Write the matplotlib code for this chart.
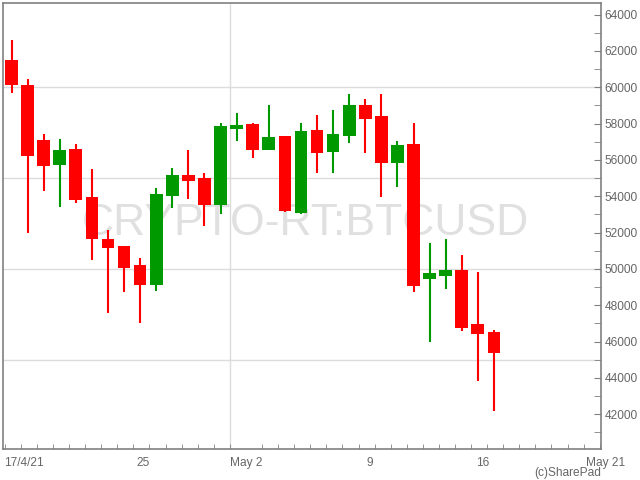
import matplotlib
matplotlib.use("Agg")
import matplotlib.pyplot as plt
import numpy as np

# Daily candles, 17 Apr 2021 .. 17 May 2021
dates = ["2021-04-17", "2021-04-18", "2021-04-19", "2021-04-20", "2021-04-21",
         "2021-04-22", "2021-04-23", "2021-04-24", "2021-04-25", "2021-04-26",
         "2021-04-27", "2021-04-28", "2021-04-29", "2021-04-30", "2021-05-01",
         "2021-05-02", "2021-05-03", "2021-05-04", "2021-05-05", "2021-05-06",
         "2021-05-07", "2021-05-08", "2021-05-09", "2021-05-10", "2021-05-11",
         "2021-05-12", "2021-05-13", "2021-05-14", "2021-05-15", "2021-05-16",
         "2021-05-17"]
opens = [61500, 60130, 57100, 55720, 56600, 53960, 51650, 51260, 50210, 49130,
         54030, 55170, 55000, 53540, 57720, 57980, 56560, 57320, 53090, 57650,
         56460, 57340, 59030, 58420, 55850, 56880, 49460, 49630, 49940, 46970,
         46540]
highs = [62600, 60460, 57430, 57150, 56880, 55500, 52140, 51260, 50600, 54450,
         55560, 56550, 55280, 58020, 58570, 58030, 59030, 57320, 58030, 58470,
         58750, 59630, 59360, 59630, 57040, 58030, 51430, 51650, 50770, 49830,
         46650]
lows = [59700, 51950, 54310, 53430, 53650, 50510, 47590, 48750, 47040, 48800,
        53370, 53870, 52380, 53040, 57060, 56120, 56560, 53150, 53040, 55300,
        55300, 56950, 56400, 53980, 54530, 48750, 45990, 48910, 46600, 43840,
        42190]
closes = [60100, 56230, 55680, 56550, 53810, 51660, 51170, 50070, 49130, 54120,
          55170, 54860, 53540, 57870, 57920, 56560, 57260, 53210, 57590, 56400,
          57430, 59030, 58270, 55850, 56820, 49080, 49780, 49940, 46760, 46430,
          45390]

x_tick_pos = [-0.05, 8.6, 15.0, 22.7, 29.7, 36.15]
x_tick_labels = ["17/4/21", "25", "May 2", "9", "16", "May 21"]
x_tick_ha = ["left", "center", "center", "center", "center", "left"]

RED = "#ff0000"
GREEN = "#009900"
GRAY = "#808080"
TXT = "#666666"

plt.rcParams['font.family'] = ['Liberation Sans', 'DejaVu Sans']

fig = plt.figure(figsize=(6.4, 4.8), dpi=100)
ax = fig.add_axes([3.3/640, 1-449/480, (600.7-3.3)/640, (449-3.3)/480])

n = len(dates)
xs = np.arange(n) + 0.42
o = np.array(opens); h = np.array(highs); l = np.array(lows); c = np.array(closes)
cols = [GREEN if cc >= oo else RED for oo, cc in zip(o, c)]

ax.vlines(xs, l, h, colors=cols, linewidth=1.5, zorder=3)
bottoms = np.minimum(o, c)
heights = np.abs(c - o)
heights = np.maximum(heights, 60)
ax.bar(xs, heights, bottom=bottoms, width=0.79, color=cols, zorder=4, linewidth=0)

ax.set_xlim(-0.09, 37.06)
ax.set_ylim(40082, 64626)

# grid
for gy in [45000, 50000, 55000, 60000]:
    ax.axhline(gy, color="#dcdcdc", linewidth=1, zorder=1)
ax.axvline(14, color="#dcdcdc", linewidth=1, zorder=1)

# watermark
ax.text(0.505, 0.505, "CRYPTO-RT:BTCUSD", transform=ax.transAxes,
        fontsize=32, color="#e0e0e0", ha="center", va="center", zorder=2)

# y axis on right
ax.yaxis.tick_right()
ax.set_yticks(np.arange(42000, 64001, 2000))
ax.set_yticks(np.arange(41000, 64001, 1000), minor=True)
ax.tick_params(axis='y', which='both', direction='in', length=5, color=GRAY,
               labelcolor=TXT, labelsize=8.6, pad=3)

# x axis
ax.set_xticks(x_tick_pos)
ax.set_xticklabels(x_tick_labels)
for lbl, ha in zip(ax.get_xticklabels(), x_tick_ha):
    lbl.set_ha(ha)
ax.set_xticks(np.arange(0, 38), minor=True)
ax.tick_params(axis='x', which='major', length=0, labelcolor=TXT, labelsize=8.6, pad=6)
ax.tick_params(axis='x', which='minor', direction='in', length=3.5, color=GRAY)

for s in ax.spines.values():
    s.set_color(GRAY)
    s.set_linewidth(1.2)

fig.text(600.7/640, 1-473/480, "(c)SharePad", ha="right", va="center",
         fontsize=8.6, color=TXT)

fig.savefig("out.png", dpi=100)
